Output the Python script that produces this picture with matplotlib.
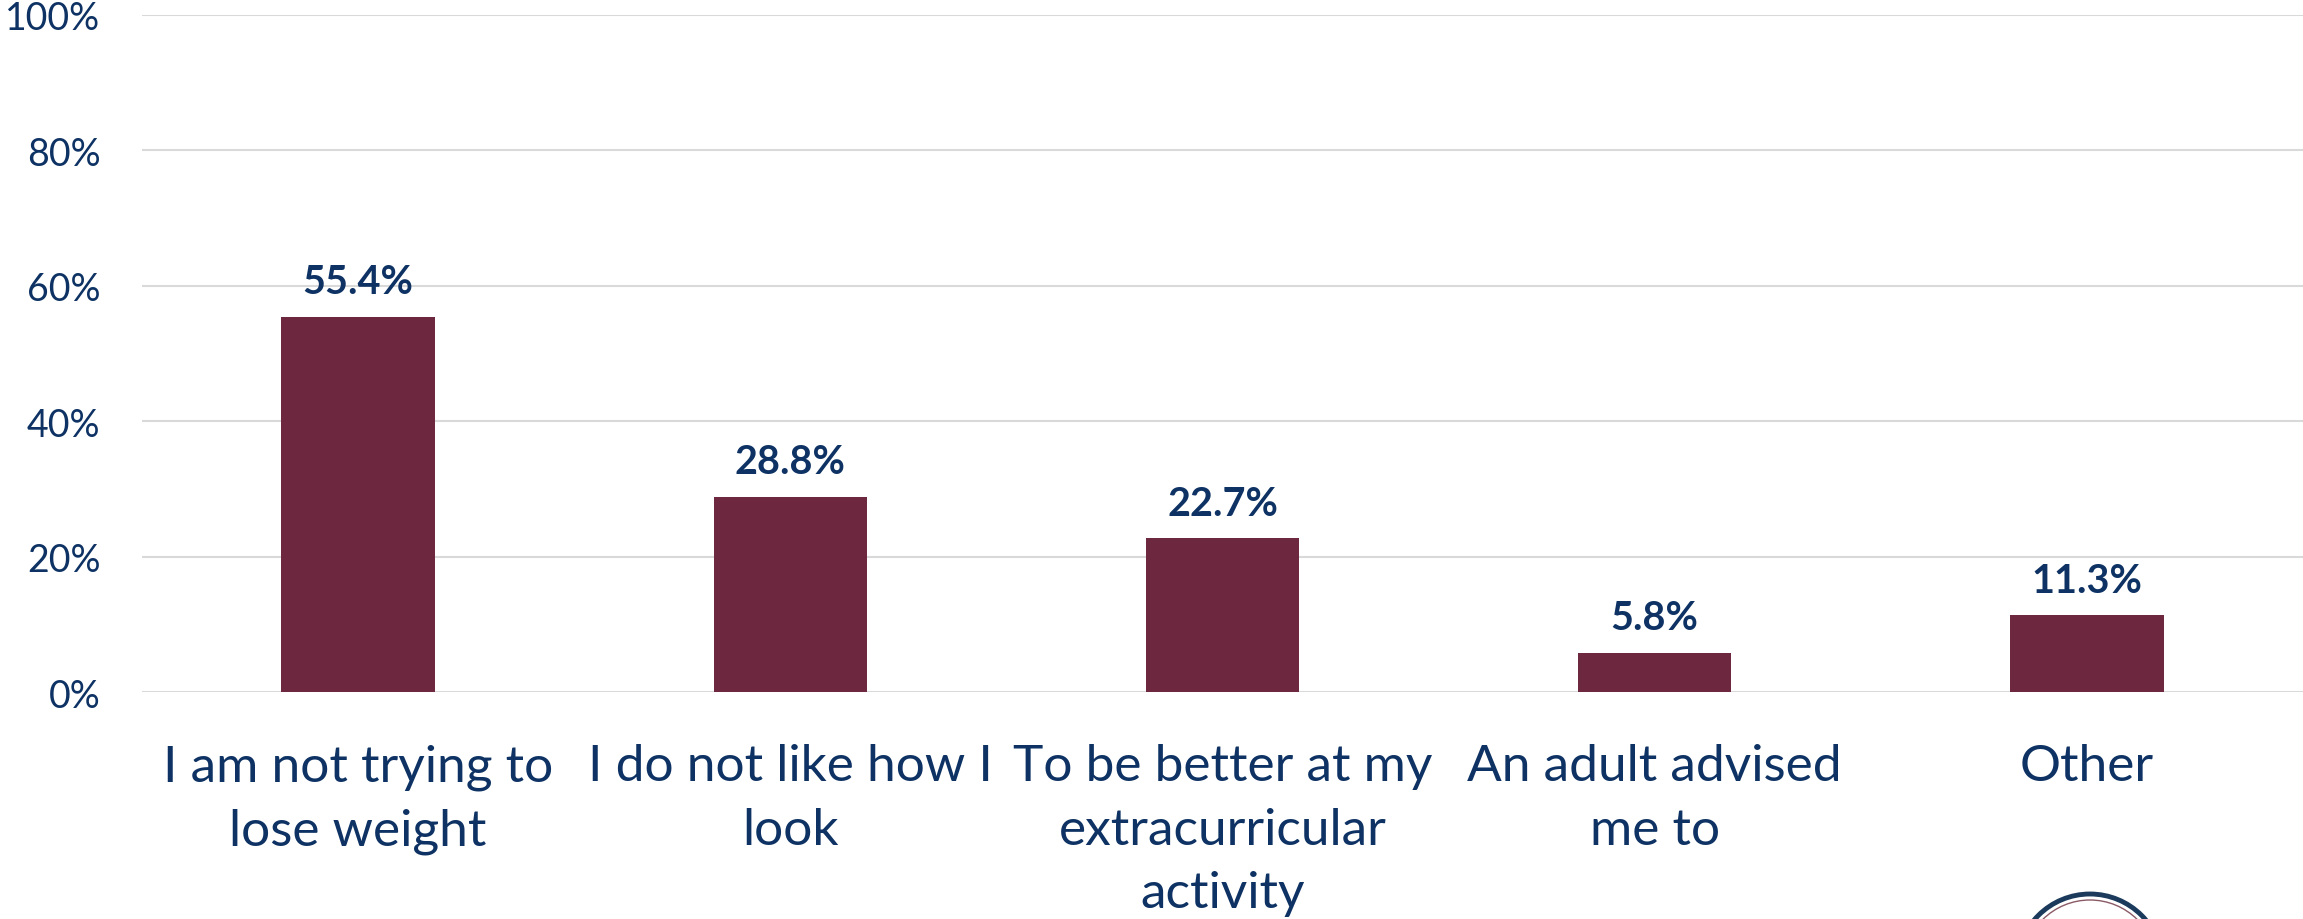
import matplotlib
matplotlib.use("Agg")
import matplotlib.pyplot as plt
from matplotlib.patches import Circle
from matplotlib.ticker import FuncFormatter

categories = ["I am not trying to\nlose weight", "I do not like how I\nlook",
              "To be better at my\nextracurricular\nactivity", "An adult advised\nme to", "Other"]
values = [55.4, 28.8, 22.7, 5.8, 11.3]
yticks = [0, 20, 40, 60, 80, 100]

NAVY = "#0D3263"
BAR = "#6D283F"
GRID = "#D9D9D9"

plt.rcParams['font.family'] = ['Lato', 'DejaVu Sans']

W, H = 2303, 920
fig = plt.figure(figsize=(W / 100, H / 100), dpi=100)
ax = fig.add_axes([142 / W, 1 - 693 / H, (W - 142) / W, (693 - 16) / H])

x = list(range(len(categories)))
ax.bar(x, values, width=0.355, color=BAR, zorder=3)
ax.set_xlim(-0.5, len(categories) - 0.5)
ax.set_ylim(0, 100)
ax.set_yticks(yticks)
ax.yaxis.set_major_formatter(FuncFormatter(lambda v, p: f"{v:.0f}%"))
ax.grid(axis='y', color=GRID, linewidth=1.5, zorder=0)
for s in ax.spines.values():
    s.set_visible(False)
ax.tick_params(axis='y', length=0, labelsize=27, labelcolor=NAVY, pad=30)
ax.set_xticks(x)
ax.set_xticklabels(categories, fontsize=37, color=NAVY, linespacing=1.47)
ax.tick_params(axis='x', length=0, pad=37)

for xi, v in zip(x, values):
    ax.annotate(f"{v:.1f}%", (xi, v), xytext=(0, 12), textcoords='offset points',
                ha='center', va='bottom', fontsize=28.5, fontweight='bold', color=NAVY)

# partial logo at bottom right
lax = fig.add_axes([0, 0, 1, 1])
lax.set_xlim(0, W)
lax.set_ylim(H, 0)
lax.axis('off')
lax.add_patch(Circle((2090, 968), 73, fill=False, edgecolor="#1B3A5C", linewidth=3.5))
lax.add_patch(Circle((2090, 968), 67, fill=False, edgecolor="#8A5A66", linewidth=1.0))

fig.savefig("out.png", dpi=100)
